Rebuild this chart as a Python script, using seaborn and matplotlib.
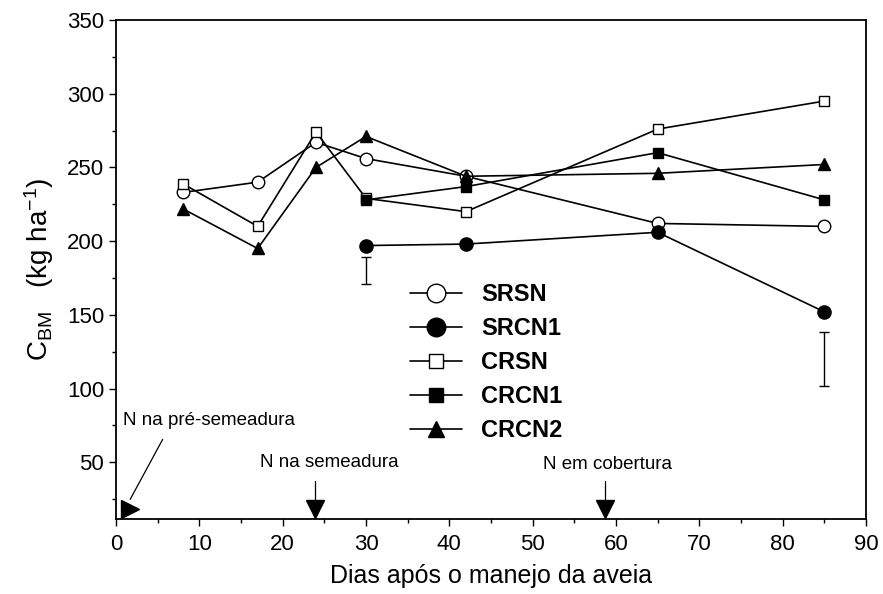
import numpy as np
import pandas as pd
import seaborn as sns
import matplotlib
matplotlib.use("Agg")
import matplotlib.pyplot as plt
from matplotlib.lines import Line2D

# dados
dias = [8, 17, 24, 30, 42, 65, 85]
srsn = [233, 240, 267, 256, 244, 212, 210]
srcn1 = [np.nan, np.nan, np.nan, 197, 198, 206, 152]
crsn = [239, 210, 274, 229, 220, 276, 295]
crcn1 = [np.nan, np.nan, np.nan, 228, 237, 260, 228]
crcn2 = [222, 195, 250, 271, 244, 246, 252]

# barras de DMS
dms_x = [30, 85]
dms_centro = [180, 120]
dms_meio = [9, 18.5]

tratamentos = ["SRSN", "SRCN1", "CRSN", "CRCN1", "CRCN2"]
df = pd.DataFrame({"dias": dias, "SRSN": srsn, "SRCN1": srcn1,
                   "CRSN": crsn, "CRCN1": crcn1, "CRCN2": crcn2})

sns.set_style("ticks")
plt.rcParams["font.family"] = ["Liberation Sans", "DejaVu Sans"]
plt.rcParams["mathtext.fontset"] = "custom"
plt.rcParams["mathtext.rm"] = "Liberation Sans"
plt.rcParams["mathtext.default"] = "regular"
for k in ["text.color", "axes.labelcolor", "xtick.color", "ytick.color", "axes.edgecolor"]:
    plt.rcParams[k] = "black"

# marcador, preenchimento, tamanho no grafico, tamanho na legenda
estilo = {
    "SRSN": ("o", "white", 9, 13.4),
    "SRCN1": ("o", "black", 9.5, 13.4),
    "CRSN": ("s", "white", 7.5, 9.6),
    "CRCN1": ("s", "black", 7.5, 9.6),
    "CRCN2": ("^", "black", 8.5, 11.5),
}

fig = plt.figure(figsize=(8.83, 5.94), dpi=100)
ax = fig.add_axes([116/883, 1-519/594, 750/883, 499/594])

for t in tratamentos:
    m, fc, ms, _ = estilo[t]
    sns.lineplot(data=df, x="dias", y=t, ax=ax, color="black", linewidth=1.2,
                 marker=m, markersize=ms, markerfacecolor=fc,
                 markeredgecolor="black", markeredgewidth=1, legend=False)

ax.errorbar(dms_x, dms_centro, yerr=dms_meio, fmt="none", ecolor="black",
            elinewidth=1, capsize=3.5, capthick=1)

# setas de aplicacao de N
ax.plot([5.6, 1.7], [65.5, 24.8], color="black", lw=0.9)
ax.plot([1.68], [18.0], marker=">", color="black", markersize=13, clip_on=False)
ax.text(0.84, 78.4, "N na pré-semeadura", fontsize=13.5, va="center", ha="left")

for xs, tx, ty, txt in [(23.9, 25.6, 50, "N na semeadura"),
                        (58.7, 59.0, 48.6, "N em cobertura")]:
    ax.plot([xs, xs], [37, 24.5], color="black", lw=0.9)
    ax.plot([xs], [18.6], marker="v", color="black", markersize=13, clip_on=False)
    ax.text(tx, ty, txt, fontsize=13.5, va="center", ha="center")

ax.set_xlim(0, 90)
ax.set_ylim(11.5, 350)
ax.set_xticks(np.arange(0, 91, 10))
ax.set_xticks(np.arange(0, 91, 5), minor=True)
ax.set_yticks(np.arange(50, 351, 50))
ax.set_yticks(np.arange(25, 351, 25), minor=True)
ax.tick_params(which="major", length=5, width=1, labelsize=16, pad=3.5, color="black")
ax.tick_params(axis="x", which="major", pad=6)
ax.tick_params(which="minor", length=3, width=1, color="black")
for s in ax.spines.values():
    s.set_linewidth(1.3)
    s.set_color("black")

ax.set_xlabel("Dias após o manejo da aveia", fontsize=18, labelpad=6)
ax.set_ylabel("C$_{BM}$   (kg ha$^{-1}$)", fontsize=20, labelpad=8)

handles = []
for t in tratamentos:
    m, fc, _, lms = estilo[t]
    handles.append(Line2D([], [], color="black", lw=1.2, marker=m, markersize=lms,
                          markerfacecolor=fc, markeredgecolor="black", markeredgewidth=1))
ax.legend(handles, tratamentos, loc="upper left", bbox_to_anchor=(0.392, 0.472),
          frameon=False, borderpad=0, borderaxespad=0, handlelength=2.2,
          handletextpad=0.8, labelspacing=0.46, prop={"weight": "bold", "size": 17})

fig.savefig("out.png", dpi=100)
